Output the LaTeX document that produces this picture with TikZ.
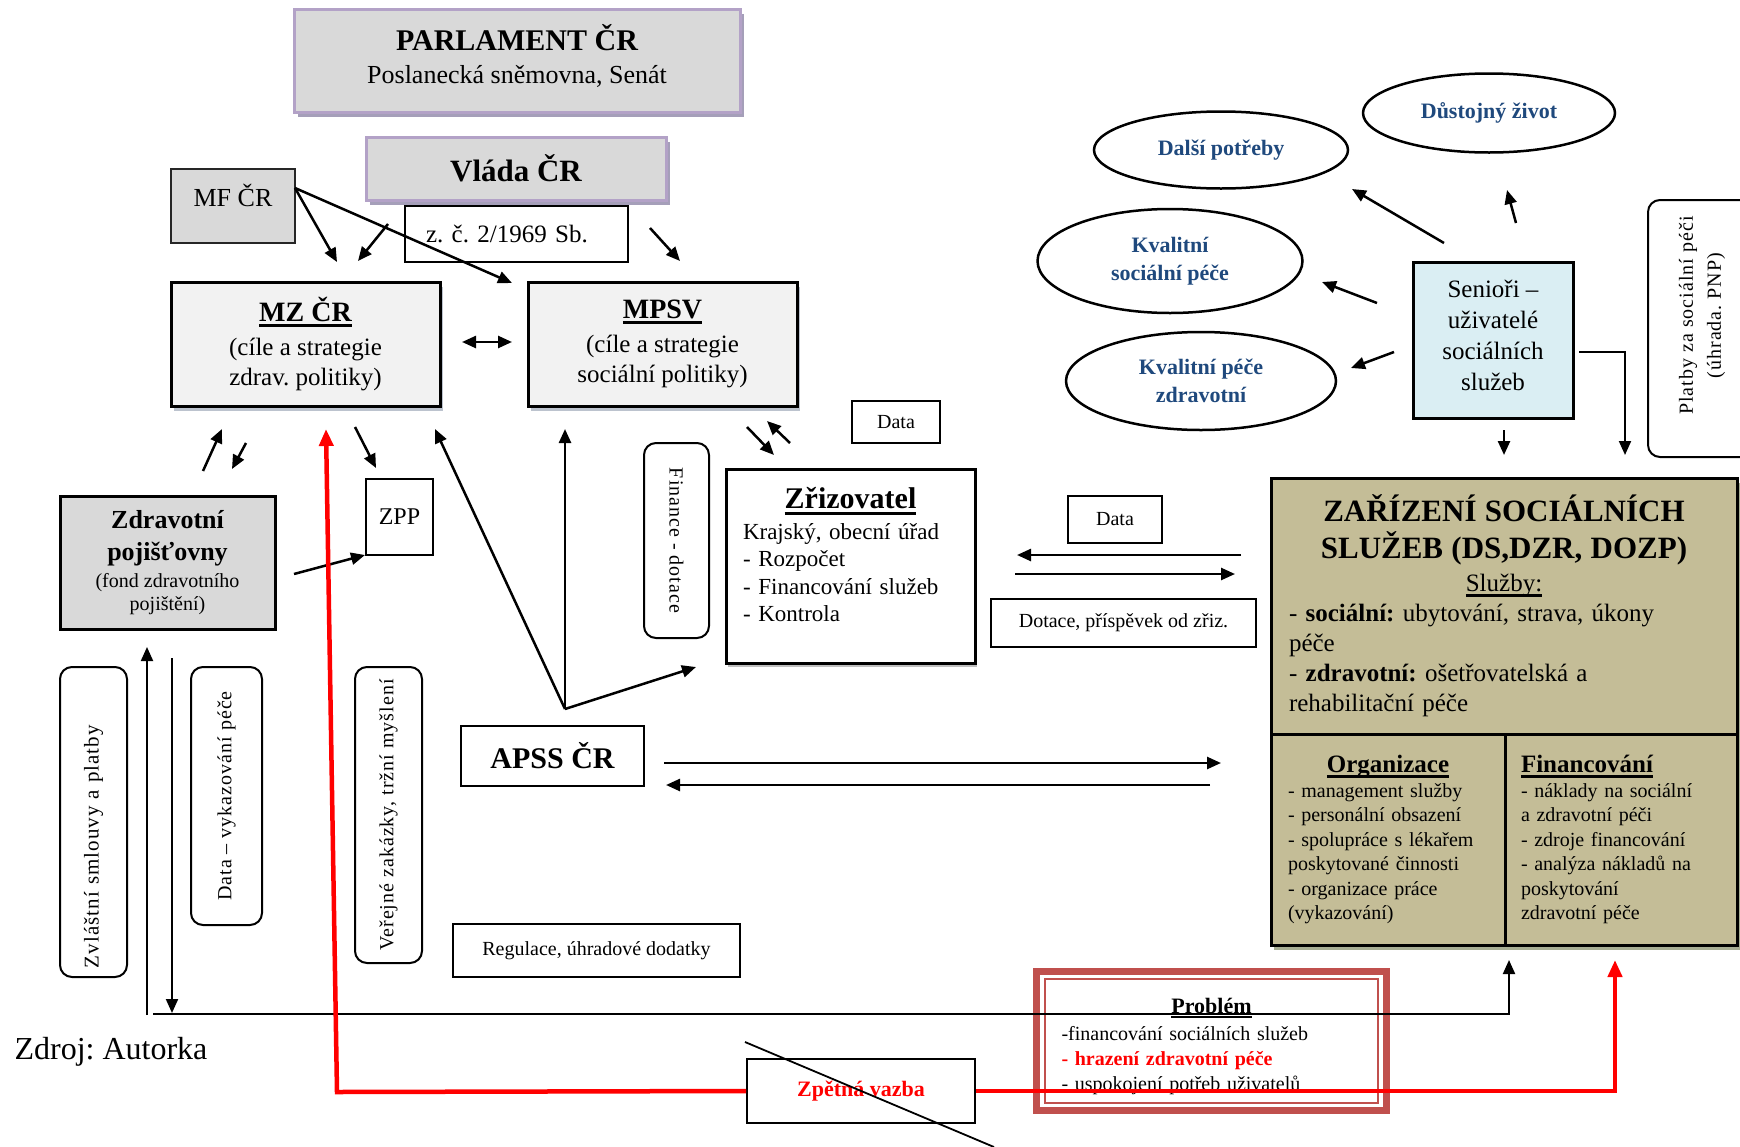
\documentclass[tikz,border=0pt]{standalone}
\usepackage{fontspec}
\setmainfont{Liberation Serif}
\frenchspacing
\usepackage{tikz}
\usetikzlibrary{arrows.meta,positioning,shapes,calc,shadows}
\definecolor{lavbord}{HTML}{B3A2C7}
\definecolor{lavshad}{HTML}{A59FB9}
\definecolor{panelgray}{HTML}{D9D9D9}
\definecolor{mzfill}{HTML}{F2F2F2}
\definecolor{mzshad}{HTML}{BCC3CE}
\definecolor{seniorblue}{HTML}{DAEEF3}
\definecolor{tanfill}{HTML}{C4BD97}
\definecolor{tanshad}{HTML}{A7AD93}
\definecolor{elltext}{HTML}{1F497D}
\definecolor{probred}{HTML}{C0504D}
\newcommand{\fsz}[2]{\fontsize{#1}{#2}\selectfont}
\newcommand{\hdul}[1]{\leavevmode\setbox0=\hbox{#1}\rlap{\copy0}\vrule width\wd0 height -0.1em depth 0.2em\relax}

\begin{document}
\begin{tikzpicture}[x=1pt,y=-1pt,>={Triangle[length=14pt,width=12pt]},
	govbox/.style={draw=lavbord,fill=panelgray,line width=3pt,align=center,inner sep=0pt,
		general shadow={fill=lavshad,shadow xshift=4pt,shadow yshift=-5pt}},
	minbox/.style={draw,fill=mzfill,line width=3pt,align=center,inner sep=0pt,
		minimum width=269pt,minimum height=124pt,font=\fsz{25}{30},
		general shadow={fill=mzshad,shadow xshift=3pt,shadow yshift=-5pt}},
	plainbox/.style={draw,fill=white,line width=2pt,align=center,inner sep=0pt,font=\fsz{20}{24}},
	roundbox/.style={draw,fill=white,rounded corners=12pt,line width=2pt,align=center,
		inner sep=0pt,font=\fsz{20}{24}\addfontfeature{LetterSpace=5}},
	needell/.style={ellipse,draw,line width=2.5pt,inner sep=0pt,align=center,text=elltext,
		font=\bfseries\fsz{22}{28}},
	tanbox/.style={draw,fill=tanfill,line width=3pt,inner sep=0pt,outer sep=0pt,align=left,
		general shadow={fill=tanshad,shadow xshift=3pt,shadow yshift=-5pt}},
	arr/.style={->,line width=2.5pt},
	thinln/.style={line width=2pt},
	redln/.style={draw=red,line width=4.5pt,>={Triangle[length=17pt,width=14pt]}}]

	\useasboundingbox (0,0) rectangle (1740,1146);
	\fill[white] (0,0) rectangle (1740,1146);

	\node[govbox,minimum width=446pt,minimum height=103pt,font=\fsz{26}{33}] (parl) at (517,60.5)
		{{\bfseries\fsz{30}{36}PARLAMENT ČR}\\Poslanecká sněmovna, Senát\\[-19pt]\mbox{}};
	\node[govbox,minimum width=300pt,minimum height=63pt,font=\bfseries\fsz{31}{36}] (vlada) at (516,168.5) {Vláda ČR};
	\node[plainbox,fill=panelgray,draw=black!85,minimum width=124pt,minimum height=74pt,
		font=\fsz{26}{30},text depth=22pt] (mf) at (233,206) {MF ČR};
	\node[plainbox,minimum width=223pt,minimum height=56pt,text width=181pt,align=left,
		font=\fsz{25}{30}] (law) at (516.5,234) {z. č. 2/1969 Sb.};

	\node[minbox] (mz) at (305.5,344) {{\bfseries\fsz{28}{34}\hdul{MZ ČR}}\\[4pt](cíle a strategie\\zdrav. politiky)};
	\node[minbox] (mpsv) at (662.5,344) {{\bfseries\fsz{28}{34}\hdul{MPSV}}\\[4pt](cíle a strategie\\sociální politiky)};

	\node[plainbox,fill=panelgray,line width=3pt,minimum width=215pt,minimum height=133pt,
		font=\bfseries\fsz{26}{32}] (zp) at (167.5,562.5)
		{Zdravotní\\pojišťovny\\[-5pt]{\mdseries\fsz{20}{23}(fond zdravotního}\\[-9pt]{\mdseries\fsz{20}{23}pojištění)}};
	\node[plainbox,minimum width=67pt,minimum height=76pt,font=\fsz{24}{28}] (zpp) at (399.5,517) {ZPP};
	\node[roundbox,rotate=-90,minimum width=195pt,minimum height=65pt] (fdot) at (676.5,540.5) {Finance - dotace};
	\node[plainbox,line width=3pt,minimum width=249pt,minimum height=194pt,text width=215pt,align=left,
		font=\fsz{23}{27.5},general shadow={fill=black!25,shadow xshift=2pt,shadow yshift=-4pt}] (zriz) at (850.5,566)
		{\makebox[\linewidth]{\bfseries\fsz{30}{34}\hdul{Zřizovatel}}\\[3pt]Krajský, obecní úřad\\- Rozpočet\\- Financování služeb\\- Kontrola\\[-5pt]\mbox{}};
	\node[plainbox,minimum width=88pt,minimum height=42pt] (data1) at (896,422) {Data};
	\node[plainbox,minimum width=94pt,minimum height=47pt] (data2) at (1115,519.5) {Data};
	\node[plainbox,minimum width=265pt,minimum height=48pt] (dotace) at (1123.5,623) {Dotace, příspěvek od zřiz.};
	\node[plainbox,minimum width=183pt,minimum height=60pt,font=\bfseries\fsz{30}{34}] (apss) at (552.5,756) {APSS ČR};
	\node[plainbox,minimum width=287pt,minimum height=53pt] (reg) at (596.5,950.5) {Regulace, úhradové dodatky};

	\node[roundbox,rotate=90,minimum width=310pt,minimum height=67pt,text width=292pt,align=left,
		font=\fsz{21}{25}\addfontfeature{LetterSpace=5}] (zvl) at (93.5,822) {Zvláštní smlouvy a platby};
	\node[roundbox,rotate=90,minimum width=258pt,minimum height=71pt] (dvp) at (226.5,796) {Data – vykazování péče};
	\node[roundbox,rotate=90,minimum width=296pt,minimum height=67pt] (vzk) at (388.5,815) {Veřejné zakázky, tržní myšlení};
	\node[roundbox,rotate=90,minimum width=257pt,minimum height=108pt,font=\fsz{20}{28}\addfontfeature{LetterSpace=5}] (platby) at (1702,328.5)
		{\hspace*{26pt}Platby za sociální péči\\\hspace*{26pt}(úhrada. PNP)};

	\node[needell,minimum width=252pt,minimum height=79pt] (dz) at (1489,113) {Důstojný život};
	\node[needell,minimum width=254pt,minimum height=77pt] (dp) at (1221,150) {Další potřeby};
	\node[needell,minimum width=265pt,minimum height=104pt] (ksp) at (1170,261) {Kvalitní\\sociální péče};
	\node[needell,minimum width=270pt,minimum height=98pt] (kpz) at (1201,381) {Kvalitní péče\\zdravotní};
	\node[plainbox,fill=seniorblue,line width=3pt,minimum width=160pt,minimum height=156pt,
		font=\fsz{25}{31}] (sen) at (1493,340) {Senioři –\\uživatelé\\sociálních\\služeb\\[-21pt]\mbox{}};

	\node[tanbox,minimum width=466pt,minimum height=256pt,text width=430pt,font=\fsz{25}{30}] (zss) at (1504,606)
		{\makebox[\linewidth]{\bfseries\fsz{31}{37}ZAŘÍZENÍ SOCIÁLNÍCH}\\[7pt]
		\makebox[\linewidth]{\bfseries\fsz{31}{37}SLUŽEB (DS,DZR, DOZP)}\\[3pt]
		\makebox[\linewidth]{\hdul{Služby:}}\\
		- \textbf{sociální:} ubytování, strava, úkony\\péče\\
		- \textbf{zdravotní:} ošetřovatelská a\\rehabilitační péče};
	\node[tanbox,anchor=north west,minimum width=234pt,minimum height=211pt,text width=200pt,font=\fsz{20}{24.5}] (org) at (zss.south west)
		{\makebox[\linewidth]{\bfseries\fsz{25}{30}\hdul{Organizace}}\\
		- management služby\\- personální obsazení\\- spolupráce s lékařem\\poskytované činnosti\\- organizace práce\\(vykazování)};
	\node[tanbox,anchor=north west,minimum width=232pt,minimum height=211pt,text width=200pt,font=\fsz{20}{24.5}] (fin) at (org.north east)
		{{\bfseries\fsz{25}{30}\hdul{Financování}}\\
		- náklady na sociální\\a zdravotní péči\\- zdroje financování\\- analýza nákladů na\\poskytování\\zdravotní péče};

	\node[draw=probred,line width=7pt,minimum width=350pt,minimum height=139pt,inner sep=0pt,text width=300pt,
		align=left,font=\fsz{20}{25}] (prob) at (1211.5,1041)
		{\mbox{}\\[2pt]\makebox[\linewidth]{\bfseries\fsz{22}{28}\hdul{Problém}}\\[2pt]-financování sociálních služeb\\
		{\color{red}\bfseries - hrazení zdravotní péče}\\- uspokojení potřeb uživatelů};
	\draw[probred,line width=2.5pt] ($(prob.north west)+(12,11)$) rectangle ($(prob.south east)+(-12,-11)$);
	\node[plainbox,minimum width=228pt,minimum height=64pt,font=\bfseries\fsz{22}{26},text=red] (zpv) at (861,1091) {Zpětná vazba};
	\node[font=\fsz{32}{38},inner sep=0pt] (src) at (111,1052) {Zdroj: Autorka};

	\coordinate (mfo) at (295,188);   \coordinate (mzi1) at (337,262);  \coordinate (mpi1) at (512,283);
	\coordinate (lawo1) at (388,224); \coordinate (mzi2) at (358,261);
	\coordinate (lawo2) at (650,228); \coordinate (mpi2) at (680,261);
	\coordinate (mzr) at (462,342);   \coordinate (mpl) at (512,342);
	\coordinate (zpo) at (203,471);   \coordinate (mzi3) at (222,429);
	\coordinate (mzo1) at (246,443);  \coordinate (zpi) at (232,469);
	\coordinate (mzo2) at (355,427);  \coordinate (zppi1) at (376,468);
	\coordinate (zpr) at (294,574);   \coordinate (zppi2) at (365,555);
	\coordinate (apx) at (565,709);   \coordinate (mzi4) at (435,429);
	\coordinate (mpi3) at (565,429);  \coordinate (zrl) at (696,667);
	\coordinate (mpo) at (747,427);   \coordinate (zri) at (774,455);
	\coordinate (zro) at (790,443);   \coordinate (mpi4) at (767,421);
	\coordinate (zssl1) at (1241,555); \coordinate (zrr1) at (1017,555);
	\coordinate (zrr2) at (1015,574);  \coordinate (zssl2) at (1235,574);
	\coordinate (apr1) at (664,763);   \coordinate (zssa1) at (1221,763);
	\coordinate (zssa2) at (1210,785); \coordinate (apr2) at (666,785);
	\coordinate (seno1) at (1444,243); \coordinate (dpi) at (1352,189);
	\coordinate (seno2) at (1516,223); \coordinate (dzi) at (1507,190);
	\coordinate (seno3) at (1377,303); \coordinate (kspi) at (1322,282);
	\coordinate (seno4) at (1394,352); \coordinate (kpzi) at (1351,368);
	\coordinate (senb) at (1504,430);  \coordinate (zsst1) at (1504,455);
	\coordinate (seno5) at (1579,352); \coordinate (zsst2) at (1625,455);
	\coordinate (lb1) at (147,1015);   \coordinate (zpb1) at (147,647);
	\coordinate (zpb2) at (172,658);   \coordinate (lb2) at (172,1013);
	\coordinate (hl0) at (153,1014);   \coordinate (orgb) at (1509,960);
	\coordinate (rtop) at (326,429);   \coordinate (rc1) at (337,1092);
	\coordinate (rtip) at (1615,960);

	\path[arr]
	(mfo) edge (mzi1)
	(mfo) edge (mpi1)
	(lawo1) edge (mzi2)
	(lawo2) edge (mpi2)
	(zpo) edge (mzi3)
	(mzo1) edge (zpi)
	(mzo2) edge (zppi1)
	(zpr) edge (zppi2)
	(apx) edge (mzi4)
	(apx) edge (mpi3)
	(apx) edge (zrl)
	(mpo) edge (zri)
	(zro) edge (mpi4)
	(zssl1) edge (zrr1)
	(zrr2) edge (zssl2)
	(apr1) edge (zssa1)
	(zssa2) edge (apr2)
	(seno1) edge (dpi)
	(seno2) edge (dzi)
	(seno3) edge (kspi)
	(seno4) edge (kpzi)
	(senb) edge (zsst1);
	\draw[arr,<->] (mzr) -- (mpl);
	\draw[thinln,->] (seno5) -| (zsst2);

	\draw[thinln,->] (lb1) -- (zpb1);
	\draw[thinln,->] (zpb2) -- (lb2);
	\draw[thinln,->] (hl0) -| (orgb);

	\draw[redln,<-] (rtop) -- (rc1) -- (zpv.west);
	\draw[redln,->] (zpv.east) -| (rtip);
	\draw[line width=1.8pt] ($(zpv.north west)+(-1,-16)$) -- ($(zpv.south east)+(18,23)$);

\end{tikzpicture}
\end{document}
